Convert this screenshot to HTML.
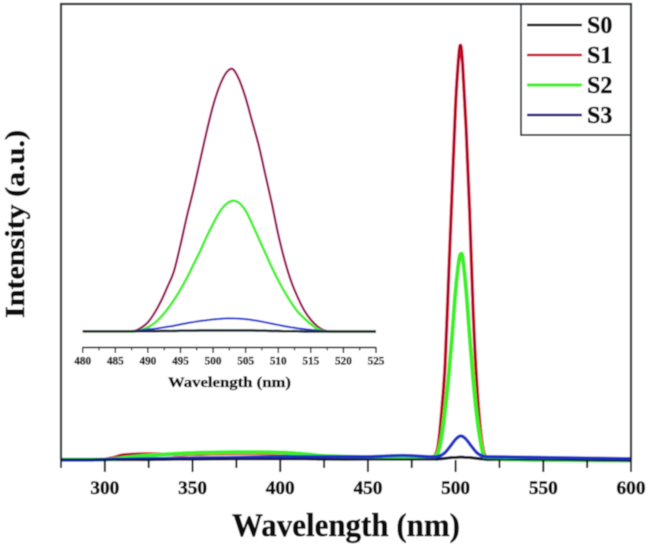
<!DOCTYPE html>
<html>
<head>
<meta charset="utf-8">
<style>
html,body{margin:0;padding:0;background:#fff;}
svg{display:block;}
text{font-family:"Liberation Serif",serif;font-weight:bold;fill:#111;stroke:#111;}
</style>
</head>
<body>
<svg id="chart" width="649" height="547" viewBox="0 0 649 547" xmlns="http://www.w3.org/2000/svg">
<defs><filter id="soft" x="-5%" y="-5%" width="110%" height="110%"><feGaussianBlur stdDeviation="0.4"/></filter></defs>
<g id="root" filter="url(#soft)"></g>
</svg>
<script>
// ---- main chart data (relative intensity, S1 peak = 100) ----
const mainWavelengths = [275,290,300,305,310,325,340,350,375,400,415,425,450,470,485,488,490,492,494,496,498,500,502,503,504,506,508,510,512,514,516,518,520,550,600];
const mainS0 = [0.1,0.1,0.1,0.1,0.1,0.1,0.2,0.2,0.3,0.3,0.3,0.2,0.2,0.2,0.2,0.2,0.2,0.3,0.4,0.5,0.6,0.6,0.7,0.7,0.7,0.6,0.6,0.5,0.4,0.3,0.2,0.1,0.1,0,-0.2];
const mainS1 = [0.1,0.1,0.2,0.6,1.2,1.5,1.3,1.4,1.6,1.5,1.3,0.9,0.7,0.7,0.6,1.0,3.5,11.5,23,44,65,86,98.5,100,95.5,80,60,36,19,8,2,0.6,0.4,0.1,0];
const mainS2 = [0.1,0.1,0.1,0.2,0.5,1.1,1.5,1.7,1.9,1.8,1.4,1.0,0.7,0.7,0.6,0.9,1.8,5.5,12,20,30,41,48.5,49.8,49,41,30,19.5,11,5,1,0.4,0.3,0,-0.1];
const mainS3 = [0,0,0.1,0.2,0.2,0.3,0.4,0.5,0.6,0.8,0.8,0.8,0.8,1.1,0.8,0.8,0.9,1.2,1.8,2.8,3.9,5.0,5.7,5.8,5.7,5.0,3.9,2.8,1.8,1.2,0.9,0.8,0.8,0.6,0.3];
const mainXTicks = [300,350,400,450,500,550,600];
const mainXMinorTicks = [275,325,375,425,475,525,575];

// ---- inset data ----
const insetWavelengths = [480,485,487,488,489,490,491,492,493,494,495,496,497,498,499,500,501,502,503,504,505,506,507,508,509,510,511,512,513,514,515,516,517,518,520,525];
const insetS0 = [0.1,0.1,0.1,0.1,0.1,0.1,0.1,0.2,0.2,0.2,0.3,0.3,0.3,0.4,0.4,0.4,0.4,0.4,0.4,0.4,0.4,0.4,0.3,0.3,0.2,0.2,0.1,0.1,0.1,0,0,0,0,0,0,0];
const insetS1 = [0,0,0,0.2,1.5,3.5,7,11.5,17,23,33,44,54,65,76,86,93.5,98.5,100,96,89,80,71,60,49,37,27,19,13,8,4.5,2,0.5,0,0,0];
const insetS2 = [0,0,0,0,0.6,1.6,3.2,5.5,8.5,12,16,20.5,25.5,30.5,36,41,45.5,48.5,49.8,49,46,41,35.5,30,24.5,19.5,15,11,7.5,5,2.8,1,0.2,0,0,0];
const insetS3 = [0,0,0.1,0.3,0.5,0.8,1,1.4,1.8,2.2,2.7,3.2,3.6,4.0,4.3,4.6,4.8,5.0,5.0,4.9,4.7,4.4,4.0,3.5,3.0,2.5,2.0,1.6,1.2,0.9,0.6,0.4,0.2,0.1,0,0];
const insetXTicks = [480,485,490,495,500,505,510,515,520,525];
const insetXMinorTicks = [482.5,487.5,492.5,497.5,502.5,507.5,512.5,517.5,522.5];

// ---- legend ----
const legendLabels = ['S0','S1','S2','S3'];
const legendColors = ['#111111','#c2182c','#44f02e','#1c1c78'];

const NS = 'http://www.w3.org/2000/svg';
const root = document.getElementById('root');

function make(tag, attrs, text, parent) {
  const el = document.createElementNS(NS, tag);
  for (const k in attrs) el.setAttribute(k, attrs[k]);
  if (text !== undefined && text !== null) el.textContent = text;
  (parent || root).appendChild(el);
  return el;
}

// axis functions
const mainX = w => 61 + (w - 275) * (631 - 61) / (600 - 275);
const mainY = v => 460 - v * 4.14;
const insetX = w => 82.7 + (w - 480) * (376 - 82.7) / 45;
const insetY = v => 331.5 - v * 2.625;

// smooth curve through the data points
function pathFrom(xs, ys, fx, fy) {
  const pts = xs.map((w, i) => [fx(w), fy(ys[i])]);
  let d = 'M' + pts[0][0].toFixed(2) + ' ' + pts[0][1].toFixed(2);
  for (let i = 0; i < pts.length - 1; i++) {
    const p0 = pts[Math.max(i - 1, 0)], p1 = pts[i], p2 = pts[i + 1], p3 = pts[Math.min(i + 2, pts.length - 1)];
    const dx = (p2[0] - p1[0]) / 3;
    const s1 = (p2[1] - p0[1]) / Math.max(p2[0] - p0[0], 0.01);
    const s2 = (p3[1] - p1[1]) / Math.max(p3[0] - p1[0], 0.01);
    d += 'C' + (p1[0] + dx).toFixed(2) + ' ' + (p1[1] + s1 * dx).toFixed(2) + ' ' +
         (p2[0] - dx).toFixed(2) + ' ' + (p2[1] - s2 * dx).toFixed(2) + ' ' +
         p2[0].toFixed(2) + ' ' + p2[1].toFixed(2);
  }
  return d;
}

// white background
const bg = make('rect', {x:0, y:0, width:649, height:547, fill:'#fff'});



// main series
function mainSeries(name, vals, color, width) {
  const p = make('path', {d:pathFrom(mainWavelengths, vals, mainX, mainY), fill:'none', stroke:color, 'stroke-width':width, 'stroke-linejoin':'round'});
  
  
  return p;
}
mainSeries('series-s0', mainS0, '#111111', 3);
mainSeries('series-s1', mainS1, '#e8102c', 3.4);
mainSeries('series-s1-core', mainS1, '#5a1030', 1.1);
mainSeries('series-s2', mainS2, '#3cf028', 4);
mainSeries('series-s3', mainS3, '#1c30c8', 3.2);
mainSeries('series-s0-baseline', mainS0, '#14143c', 1.6);

// main frame
const frame = make('path', {d:'M61 460V4H631V460', fill:'none', stroke:'#20282c', 'stroke-width':2.2});



mainXTicks.forEach(t => {
  const tick = make('line', {x1:mainX(t), x2:mainX(t), y1:460, y2:472, stroke:'#111', 'stroke-width':2});
  
  
  const lab = make('text', {x:mainX(t), y:494, 'text-anchor':'middle', 'font-size':19.3, 'stroke-width':0.55}, t);
  
  
});
mainXMinorTicks.forEach(t => {
  const tick = make('line', {x1:mainX(t), x2:mainX(t), y1:460, y2:468, stroke:'#111', 'stroke-width':2});
  
  
});

const xTitle = make('text', {x:346, y:536, 'text-anchor':'middle', 'font-size':33, 'stroke-width':0.5, textLength:228, lengthAdjust:'spacingAndGlyphs'}, 'Wavelength (nm)');


const yTitle = make('text', {transform:'translate(24,318) rotate(-90)', x:0, y:0, 'font-size':27, 'stroke-width':0.5, textLength:188, lengthAdjust:'spacingAndGlyphs'}, 'Intensity (a.u.)');



// inset series
function insetSeries(name, vals, color, width) {
  const p = make('path', {d:pathFrom(insetWavelengths, vals, insetX, insetY), fill:'none', stroke:color, 'stroke-width':width, 'stroke-linejoin':'round'});
  
  
  return p;
}
insetSeries('inset-series-s1-glow', insetS1, '#e83a90', 2.4);
insetSeries('inset-series-s1', insetS1, '#5c1030', 1.3);
insetSeries('inset-series-s2', insetS2, '#44f02e', 2.6);
insetSeries('inset-series-s3', insetS3, '#2a3cd0', 2);
insetSeries('inset-series-s0', insetS0, '#1a2a30', 2.6);

// inset axis
const insetAxis = make('line', {x1:82.7, x2:376, y1:347.5, y2:347.5, stroke:'#111', 'stroke-width':1.5});


insetXTicks.forEach(t => {
  const tick = make('line', {x1:insetX(t), x2:insetX(t), y1:347, y2:353, stroke:'#111', 'stroke-width':1.4});
  
  
  const lab = make('text', {x:insetX(t), y:364.5, 'text-anchor':'middle', 'font-size':11.2, 'stroke-width':0.35}, t);
  
  
});
insetXMinorTicks.forEach(t => {
  const tick = make('line', {x1:insetX(t), x2:insetX(t), y1:347, y2:350.5, stroke:'#111', 'stroke-width':1.2});
  
  
});
const insetTitle = make('text', {x:229.5, y:387, 'text-anchor':'middle', 'font-size':14.5, 'stroke-width':0.35, textLength:123, lengthAdjust:'spacingAndGlyphs'}, 'Wavelength (nm)');



// legend
const box = make('path', {d:'M521 4V135H631', fill:'#fff', stroke:'#20282c', 'stroke-width':1.8});


legendLabels.forEach((s, i) => {
  const y = 25 + i * 30;
  const ln = make('line', {x1:527, x2:582, y1:y, y2:y, stroke:legendColors[i], 'stroke-width':i === 2 ? 3.2 : 2.4});
  
  
  const tx = make('text', {x:587, y:y + 8, 'font-size':24, 'stroke-width':0.55}, s);
  
  
});
</script>
</body>
</html>
